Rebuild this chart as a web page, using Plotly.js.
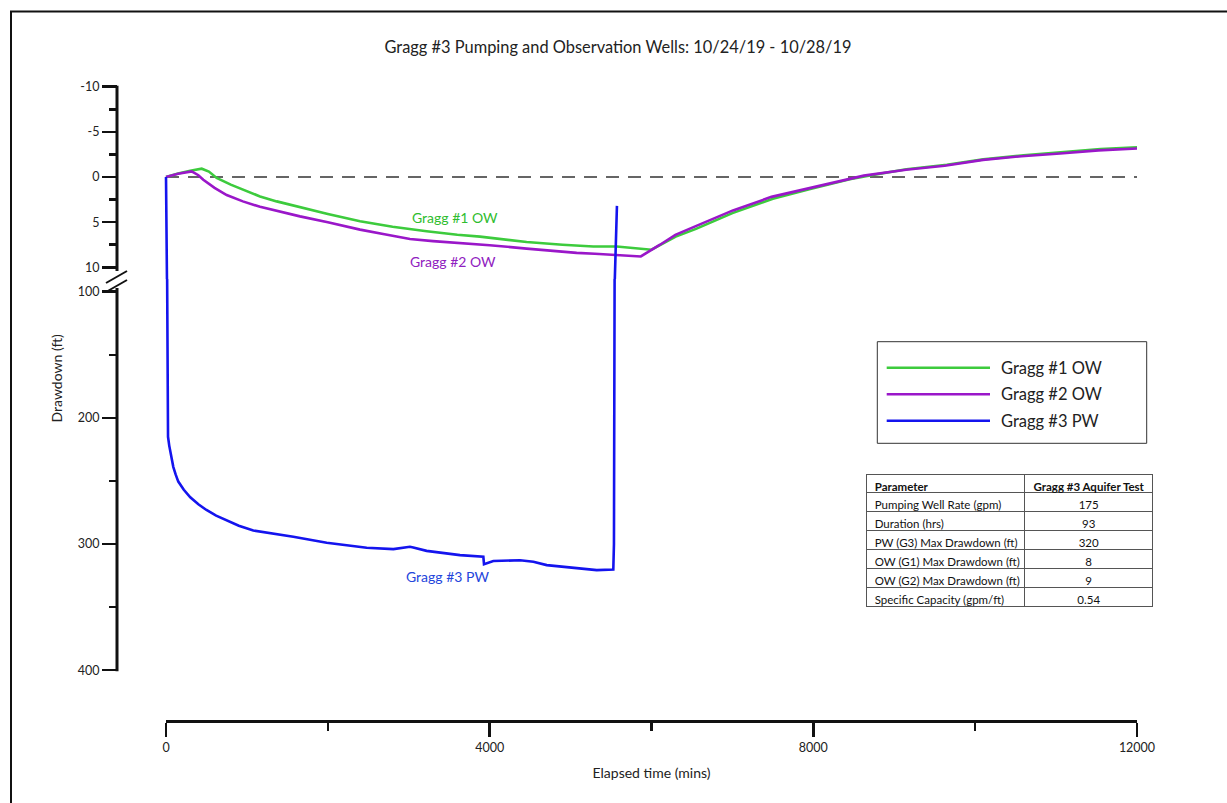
<!DOCTYPE html>
<html>
<head>
<meta charset="utf-8">
<title>Gragg #3 Pumping and Observation Wells</title>
<script src="https://cdn.plot.ly/plotly-3.0.1.min.js"></script>
<style>
  html, body { margin: 0; padding: 0; background: #fff; }
  #chart { width: 1227px; height: 803px; }
</style>
</head>
<body>
<div id="chart"></div>
<script>
// ---- Well data: elapsed time (mins) vs drawdown (ft) ----
const g1Time = [0, 150, 300, 441, 530, 626, 800, 955, 1162, 1368, 1739, 2000, 2398, 2800, 3221, 3600, 3881, 4200, 4457, 4900, 5281, 5570, 5800, 6000,
  6300, 6550, 7000, 7500, 7950, 8450, 8650, 9150, 9650, 10100, 10600, 11050, 11550, 12000];
const g1Drawdown = [0, -0.4, -0.7, -0.92, -0.6, 0.1, 0.85, 1.4, 2.15, 2.7, 3.55, 4.1, 4.9, 5.5, 6.0, 6.4, 6.6, 6.9, 7.2, 7.5, 7.7, 7.7, 7.85, 8.05,
  6.6, 5.75, 4.0, 2.4, 1.35, 0.25, -0.1, -0.85, -1.35, -1.95, -2.4, -2.7, -3.1, -3.3];

const g2Time = [0, 150, 317, 400, 461, 600, 750, 950, 1162, 1400, 1656, 2000, 2398, 2700, 3015, 3300, 3633, 4000, 4457, 4800, 5075, 5300, 5528, 5700, 5868,
  6105, 6295, 6533, 7007, 7483, 7959, 8435, 8624, 9145, 9622, 10097, 10573, 11049, 11524, 12000];
const g2Drawdown = [0, -0.35, -0.62, -0.2, 0.3, 1.2, 2.0, 2.7, 3.3, 3.85, 4.36, 5.0, 5.83, 6.35, 6.86, 7.1, 7.3, 7.55, 7.93, 8.2, 8.4, 8.5, 8.6, 8.65, 8.8,
  7.5, 6.4, 5.5, 3.7, 2.2, 1.2, 0.2, -0.15, -0.8, -1.25, -1.9, -2.3, -2.6, -2.95, -3.15];

const g3Time = [0, 12, 14, 16, 25, 40, 60, 90, 120, 152, 220, 300, 400, 500, 620, 750, 900, 1079, 1300, 1573, 1986, 2480, 2810, 3015, 3056, 3221, 3633, 3922, 3930, 4045,
  4375, 4540, 4705, 5075, 5323, 5528, 5536, 5544, 5546, 5573];
const g3Drawdown = [0, 11.5, 90, 205, 215, 222, 230, 238.8, 245, 250.5, 257, 263, 268.5, 273, 277.5, 281.5, 285.5, 289.3, 291.5, 294.3, 299, 303, 304, 302.2, 302.7, 305.4, 308.8, 310.1, 316, 313.5,
  312.8, 314.1, 316.7, 319.4, 320.7, 320.2, 300, 90, 11.5, 3.2];

const seriesNames = ['Gragg #1 OW', 'Gragg #2 OW', 'Gragg #3 PW'];
const seriesColors = ['#3dcb3d', '#9a17c9', '#1414ee'];
const labelColors = ['#2fbd2f', '#9020c0', '#2446dc'];

// ---- Axis ticks ----
const upperTickVals = [-10, -5, 0, 5, 10];
const upperTickText = ['-10', '-5', '0', '5', '10'];
const upperMinorVals = [-7.5, -2.5, 2.5, 7.5];
const lowerTickVals = [100, 200, 300, 400];
const lowerTickText = ['100', '200', '300', '400'];
const lowerMinorVals = [150, 250, 350];
const timeTickVals = [0, 4000, 8000, 12000];
const timeTickText = ['0', '4000', '8000', '12000'];
const timeMinorVals = [2000, 6000, 10000];

// ---- Summary table ----
const tableHeader = ['Parameter', 'Gragg #3 Aquifer Test'];
const tableParams = ['Pumping Well Rate (gpm)', 'Duration (hrs)', 'PW (G3) Max Drawdown (ft)',
  'OW (G1) Max Drawdown (ft)', 'OW (G2) Max Drawdown (ft)', 'Specific Capacity (gpm/ft)'];
const tableValues = ['175', '93', '320', '8', '9', '0.54'];

// ---- Page geometry helpers (pixel -> paper fraction) ----
const W = 1227, H = 803;
const px = p => p / W;
const py = p => 1 - p / H;
// keep table text on one line (non-breaking spaces)
const oneLine = s => s.replace(/ /g, '\u00a0');

const FONT = 'Lato, "Open Sans", sans-serif';
const INK = '#111';

// time scale: 0 -> 166px, 12000 -> 1137px
const T_PX0 = 166, T_PX1 = 1137, T_MIN = 0, T_MAX = 12000;
const tpx = t => T_PX0 + (t - T_MIN) * (T_PX1 - T_PX0) / (T_MAX - T_MIN);
const dataRange = [-300, 12300];

// upper (observation) scale: -10 at 86.7px, 10 at 267.3px
const U_TOP = 86.7, U_BOT10 = 267.3;
const uK = (U_BOT10 - U_TOP) / 20;
// lower (pumping) scale: 100 at 291.7px, 400 at 670.2px
const L_100 = 291.7, L_400 = 670.2;
const lK = (L_400 - L_100) / 300;
// the two panels meet at the break
const BREAK = 279;
const upperMax = -10 + (BREAK - U_TOP) / uK;
const lowerMin = 100 - (L_100 - BREAK) / lK;

const AXIS_X = 117;

const tickStyle = { ticks: 'outside', tickwidth: 2.5, tickcolor: INK, tickfont: { family: FONT, size: 12.5, color: '#222' } };

const traces = [
  { x: g1Time, y: g1Drawdown, xaxis: 'x', yaxis: 'y', type: 'scatter', mode: 'lines', name: seriesNames[0],
    line: { color: seriesColors[0], width: 2.6 }, hoverinfo: 'skip' },
  { x: g2Time, y: g2Drawdown, xaxis: 'x', yaxis: 'y', type: 'scatter', mode: 'lines', name: seriesNames[1],
    line: { color: seriesColors[1], width: 2.6 }, hoverinfo: 'skip' },
  // carries the visible time axis
  { x: [T_MIN], y: [lowerTickVals[0]], xaxis: 'x2', yaxis: 'y2', type: 'scatter', mode: 'lines',
    line: { width: 0 }, hoverinfo: 'skip' },
  { x: g3Time, y: g3Drawdown, xaxis: 'x', yaxis: 'y', type: 'scatter', mode: 'lines', name: seriesNames[2],
    line: { color: seriesColors[2], width: 2.6 }, hoverinfo: 'skip' },
  { x: g3Time, y: g3Drawdown, xaxis: 'x', yaxis: 'y2', type: 'scatter', mode: 'lines', name: seriesNames[2],
    line: { color: seriesColors[2], width: 2.6 }, hoverinfo: 'skip' },
  {
    type: 'table',
    domain: { x: [px(866.7), px(1153.3)], y: [py(607), py(474)] },
    columnwidth: [158, 128],
    header: {
      values: tableHeader.map(oneLine),
      align: ['left', 'center'],
      height: 18,
      line: { color: '#555', width: 1 },
      fill: { color: '#fff' },
      font: { family: FONT, size: 11.5, color: '#111', weight: 'bold' }
    },
    cells: {
      values: [tableParams.map(oneLine), tableValues],
      align: ['left', 'center'],
      height: 19,
      line: { color: '#555', width: 1 },
      fill: { color: '#fff' },
      font: { family: FONT, size: 11.5, color: '#111' }
    }
  }
];

const shapes = [
  // page frame
  { type: 'line', xref: 'paper', yref: 'paper', x0: px(11), x1: px(11), y0: py(11), y1: py(H + 5), line: { color: INK, width: 2 } },
  { type: 'line', xref: 'paper', yref: 'paper', x0: px(10), x1: px(W + 5), y0: py(11.5), y1: py(11.5), line: { color: INK, width: 2 } },
  // drawdown axis spine, split by the scale break
  { type: 'line', xref: 'paper', yref: 'paper', x0: px(AXIS_X), x1: px(AXIS_X), y0: py(U_TOP - 1), y1: py(271), line: { color: INK, width: 3 } },
  { type: 'line', xref: 'paper', yref: 'paper', x0: px(AXIS_X), x1: px(AXIS_X), y0: py(288), y1: py(L_400 + 1), line: { color: INK, width: 3 } },
  { type: 'line', xref: 'paper', yref: 'paper', x0: px(106), x1: px(127), y0: py(283), y1: py(271), line: { color: INK, width: 2 } },
  { type: 'line', xref: 'paper', yref: 'paper', x0: px(106), x1: px(127), y0: py(292), y1: py(280), line: { color: INK, width: 2 } },
  // zero-drawdown reference
  { type: 'line', xref: 'x', yref: 'y', x0: T_MIN, x1: T_MAX, y0: 0, y1: 0, layer: 'below',
    line: { color: '#333', width: 1.6, dash: '13px,9px' } },
  // legend box
  { type: 'rect', xref: 'paper', yref: 'paper', x0: px(877.3), x1: px(1146.7), y0: py(443.3), y1: py(341.7),
    line: { color: '#333', width: 1 }, fillcolor: 'rgba(0,0,0,0)' }
];

const legendRows = [367.7, 394.3, 420.7];
legendRows.forEach((yy, i) => {
  shapes.push({ type: 'line', xref: 'paper', yref: 'paper', x0: px(886.7), x1: px(990), y0: py(yy), y1: py(yy),
    line: { color: seriesColors[i], width: 2.6 } });
});

const annotations = legendRows.map((yy, i) => ({
  xref: 'paper', yref: 'paper', x: px(999), y: py(yy), xanchor: 'left', yanchor: 'middle',
  text: seriesNames[i], showarrow: false, font: { family: FONT, size: 16.5, color: '#222' }
}));

// curve labels
annotations.push(
  { xref: 'x', yref: 'y', x: 3570, y: 4.5, text: seriesNames[0], showarrow: false,
    font: { family: FONT, size: 14, color: labelColors[0] } },
  { xref: 'x', yref: 'y', x: 3545, y: 9.4, text: seriesNames[1], showarrow: false,
    font: { family: FONT, size: 14, color: labelColors[1] } },
  { xref: 'x', yref: 'y2', x: 3485, y: 325.5, text: seriesNames[2], showarrow: false,
    font: { family: FONT, size: 14, color: labelColors[2] } },
  // drawdown axis title, centred on both panels
  { xref: 'paper', yref: 'paper', x: px(56), y: py((U_TOP + L_400) / 2), xanchor: 'center', yanchor: 'middle',
    text: 'Drawdown (ft)', textangle: -90,
    showarrow: false, font: { family: FONT, size: 14, color: '#222' } }
);

const layout = {
  width: W, height: H,
  margin: { l: 0, r: 0, t: 0, b: 0, pad: 0 },
  paper_bgcolor: '#fff', plot_bgcolor: 'rgba(0,0,0,0)',
  showlegend: false,
  font: { family: FONT, color: '#222' },
  title: {
    text: 'Gragg #3 Pumping and Observation Wells: 10/24/19 - 10/28/19',
    xref: 'paper', yref: 'paper', x: px(618), y: py(47), xanchor: 'center', yanchor: 'middle',
    font: { family: FONT, size: 16.4, color: '#222' }
  },
  xaxis: {
    domain: [px(tpx(dataRange[0])), px(tpx(dataRange[1]))], range: dataRange,
    anchor: 'free', position: 0, visible: false, fixedrange: true
  },
  xaxis2: Object.assign({
    domain: [px(T_PX0), px(T_PX1)], range: [T_MIN, T_MAX],
    anchor: 'free', position: py(720.5), side: 'bottom',
    showline: true, linewidth: 3, linecolor: INK,
    ticklen: 14, tickmode: 'array', tickvals: timeTickVals, ticktext: timeTickText,
    minor: { tickmode: 'array', tickvals: timeMinorVals, ticks: 'outside', ticklen: 8, tickwidth: 2.5, tickcolor: INK, showgrid: false },
    showgrid: false, zeroline: false, automargin: false, fixedrange: true,
    title: { text: 'Elapsed time (mins)', font: { family: FONT, size: 14, color: '#222' }, standoff: 14 }
  }, tickStyle),
  yaxis: Object.assign({
    domain: [py(BREAK), py(U_TOP)], range: [upperMax, -10],
    anchor: 'free', position: px(AXIS_X), side: 'left', showline: false,
    ticklen: 15, tickmode: 'array', tickvals: upperTickVals, ticktext: upperTickText,
    minor: { tickmode: 'array', tickvals: upperMinorVals, ticks: 'outside', ticklen: 8, tickwidth: 2.5, tickcolor: INK, showgrid: false },
    showgrid: false, zeroline: false, automargin: false, fixedrange: true
  }, tickStyle),
  yaxis2: Object.assign({
    domain: [py(L_400), py(BREAK)], range: [400, lowerMin],
    anchor: 'free', position: px(AXIS_X), side: 'left', showline: false,
    ticklen: 15, tickmode: 'array', tickvals: lowerTickVals, ticktext: lowerTickText,
    minor: { tickmode: 'array', tickvals: lowerMinorVals, ticks: 'outside', ticklen: 8, tickwidth: 2.5, tickcolor: INK, showgrid: false },
    showgrid: false, zeroline: false, automargin: false, fixedrange: true
  }, tickStyle),
  shapes: shapes,
  annotations: annotations
};

Plotly.newPlot('chart', traces, layout, { displayModeBar: false, staticPlot: true });
</script>
</body>
</html>
